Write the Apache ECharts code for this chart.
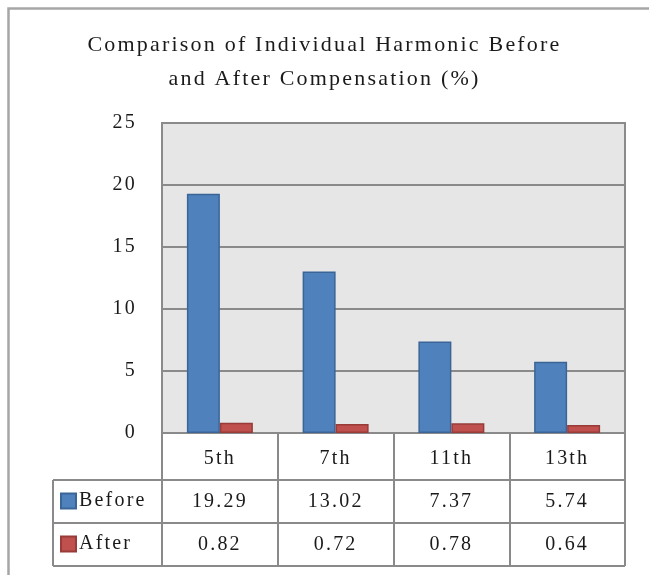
<!DOCTYPE html>
<html>
<head>
<meta charset="utf-8">
<script src="https://cdn.jsdelivr.net/npm/echarts@6/dist/echarts.min.js"></script>
<style>
html,body{margin:0;padding:0;background:#fff;}
#chart{width:649px;height:575px;}
</style>
</head>
<body>
<div id="chart"></div>
<script>
var categories = ['5th', '7th', '11th', '13th'];
var beforeValues = [19.29, 13.02, 7.37, 5.74];
var afterValues = [0.82, 0.72, 0.78, 0.64];
var seriesNames = ['Before', 'After'];
var titleText = 'Comparison of Individual Harmonic Before\nand After Compensation (%)';

// emulate the wide character spacing of the original rendering
(function () {
  var proto = CanvasRenderingContext2D.prototype;
  var orig = proto.fillText;
  proto.fillText = function () {
    if ('letterSpacing' in this) { this.letterSpacing = '2.2px'; }
    return orig.apply(this, arguments);
  };
})();

var FONT = '"Liberation Serif", "Times New Roman", serif';
var GRID = {left: 162, top: 123, right: 24, bottom: 142};
var ROW1 = 47, ROWH = 43;
var LEGEND_LEFT = 53;
var LINE = '#8a8a8a';

var chart = echarts.init(document.getElementById('chart'), null, {renderer: 'canvas'});

var option = {
  animation: false,
  backgroundColor: '#ffffff',
  title: {
    text: titleText,
    left: 'center',
    top: 23,
    padding: [5, 0, 5, 7],
    textStyle: {fontFamily: FONT, fontSize: 22, fontWeight: 'normal', color: '#1a1a1a', lineHeight: 34}
  },
  legend: {
    orient: 'vertical',
    left: LEGEND_LEFT + 2,
    top: 486,
    itemWidth: 15,
    itemHeight: 15,
    itemGap: 23,
    icon: 'rect',
    selectedMode: false,
    textStyle: {fontFamily: FONT, fontSize: 20, color: '#1a1a1a', lineHeight: 20, padding: [0, 0, 0, -2]},
    data: seriesNames
  },
  grid: {
    left: GRID.left, top: GRID.top, right: GRID.right, bottom: GRID.bottom,
    show: true, backgroundColor: '#e6e6e6', borderColor: LINE, borderWidth: 2
  },
  xAxis: {
    type: 'category',
    data: categories,
    axisLine: {show: true, lineStyle: {color: LINE, width: 2}},
    axisTick: {show: true, interval: 0, alignWithLabel: false, length: ROW1 + 2 * ROWH, lineStyle: {color: LINE, width: 2}},
    axisLabel: {interval: 0, margin: 16, fontFamily: FONT, fontSize: 20, color: '#1a1a1a'}
  },
  yAxis: {
    type: 'value',
    min: 0, max: 25, interval: 5,
    axisLine: {show: false},
    axisTick: {show: false},
    splitLine: {lineStyle: {color: LINE, width: 2}},
    axisLabel: {margin: 25, fontFamily: FONT, fontSize: 20, color: '#1a1a1a'}
  },
  series: [
    {
      name: seriesNames[0], type: 'bar', data: beforeValues,
      barGap: '0%', barCategoryGap: '43%',
      itemStyle: {color: '#4f81bd', borderColor: '#3b6597', borderWidth: 1.5}
    },
    {
      name: seriesNames[1], type: 'bar', data: afterValues,
      barGap: '0%', barCategoryGap: '43%',
      itemStyle: {color: '#c0504d', borderColor: '#983b39', borderWidth: 1.5}
    }
  ]
};
chart.setOption(option);

var plotLeft = GRID.left, plotRight = 649 - GRID.right, plotBottom = 575 - GRID.bottom;
var rowY = [plotBottom + ROW1, plotBottom + ROW1 + ROWH, plotBottom + ROW1 + 2 * ROWH];
var elements = [];
elements.push({type: 'rect', shape: {x: 8.5, y: 8.5, width: 700, height: 700},
  style: {fill: null, stroke: '#a6a6a6', lineWidth: 2.5}, silent: true});
elements.push({type: 'rect', shape: {x: LEGEND_LEFT, y: rowY[0], width: plotRight - LEGEND_LEFT, height: 2 * ROWH},
  style: {fill: '#fff'}, z: -1, silent: true});
rowY.forEach(function (y) {
  elements.push({type: 'line', shape: {x1: LEGEND_LEFT, y1: y, x2: plotRight, y2: y},
    style: {stroke: LINE, lineWidth: 2}, silent: true});
});
elements.push({type: 'line', shape: {x1: LEGEND_LEFT, y1: rowY[0], x2: LEGEND_LEFT, y2: rowY[2]},
  style: {stroke: LINE, lineWidth: 2}, silent: true});
var rows = [beforeValues, afterValues];
rows.forEach(function (vals, r) {
  vals.forEach(function (v, i) {
    var x = chart.convertToPixel({xAxisIndex: 0}, categories[i]);
    elements.push({type: 'text', x: x, y: rowY[r] + ROWH / 2,
      style: {text: v.toFixed(2), fontFamily: FONT, fontSize: 20, fill: '#1a1a1a', align: 'center', verticalAlign: 'middle'},
      silent: true});
  });
});
chart.setOption({graphic: elements});
</script>
</body>
</html>
